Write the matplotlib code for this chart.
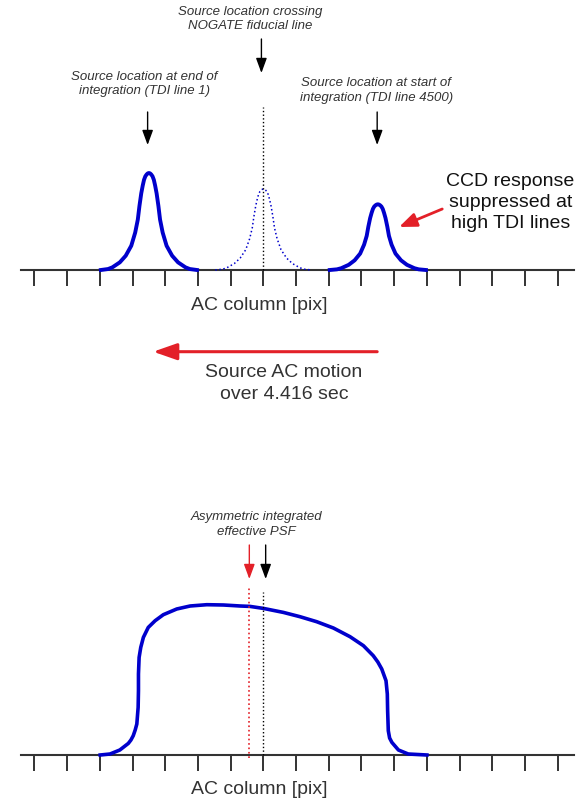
import matplotlib.pyplot as plt

plt.rcParams['font.family'] = ['Liberation Sans', 'DejaVu Sans']

# single-line PSF shape: offset from centre [pix], relative height
profile_dx = [-1.47, -1.25, -1.12, -0.89, -0.71, -0.54, -0.42, -0.34, -0.29, -0.235, -0.19,
              -0.15, -0.11, -0.07, -0.035, 0.0, 0.035, 0.07, 0.11, 0.15, 0.19, 0.235, 0.29,
              0.34, 0.42, 0.54, 0.71, 0.89, 1.12, 1.25, 1.47]
profile_h = [0.0, 0.01, 0.027, 0.079, 0.147, 0.25, 0.386, 0.52, 0.66, 0.79, 0.87,
             0.93, 0.966, 0.985, 0.996, 1.0, 0.996, 0.985, 0.966, 0.93, 0.87, 0.79, 0.66,
             0.52, 0.386, 0.25, 0.147, 0.079, 0.027, 0.01, 0.0]

# source image at end of integration, at the fiducial line, at start of integration
peak_pos = [-3.5, 0.0, 3.5]
peak_height = [0.97, 0.81, 0.657]

# integrated effective PSF
psf_x = [-4.99, -4.69, -4.39, -4.13, -4.05, -3.98, -3.92, -3.87, -3.83, -3.82, -3.82, -3.80,
         -3.75, -3.67, -3.52, -3.31, -3.06, -2.65, -2.24, -1.73, -1.22, -0.71, -0.41, 0.0,
         0.61, 1.12, 1.63, 2.14, 2.65, 3.06, 3.36, 3.50, 3.62, 3.75, 3.79, 3.80, 3.82, 3.86,
         3.93, 4.13, 4.43, 5.0]
psf_y = [0.0, 0.01, 0.05, 0.116, 0.15, 0.193, 0.25, 0.31, 0.476, 0.643, 0.81, 0.976,
         1.076, 1.176, 1.276, 1.343, 1.403, 1.46, 1.49, 1.503, 1.50, 1.49, 1.486, 1.466,
         1.426, 1.383, 1.333, 1.27, 1.183, 1.093, 0.993, 0.93, 0.86, 0.743, 0.61, 0.443,
         0.243, 0.17, 0.126, 0.05, 0.01, 0.0]
psf_centroid = -0.43

ticks = list(range(-7, 10))

blue = '#0000cc'
red = '#e32028'
grey = '#333333'

fig = plt.figure(figsize=(5.88, 8.02), dpi=100)
ax1 = fig.add_axes([21.4 / 588, 532 / 802, 552.3 / 588, 270 / 802])
ax2 = fig.add_axes([21.4 / 588, 47 / 802, 552.3 / 588, 255 / 802])
ax1.set_ylim(0, 2.70)
ax2.set_ylim(0, 2.55)

for ax in (ax1, ax2):
    ax.set_xlim(-7.40, 9.49)
    for s in ['left', 'right', 'top']:
        ax.spines[s].set_visible(False)
    ax.spines['bottom'].set_color(grey)
    ax.spines['bottom'].set_linewidth(1.5)
    ax.set_xticks(ticks)
    ax.set_yticks([])
    ax.tick_params(axis='x', direction='out', length=11.3, width=1.4, color=grey,
                   labelbottom=False)
    ax.patch.set_visible(False)
    ax.text(-0.13, -0.35, 'AC column [pix]', fontsize=14, color=grey,
            ha='center', va='center')

# top panel: PSF at three moments of the transit
for i in range(3):
    xs = [peak_pos[i] + d for d in profile_dx]
    ys = [peak_height[i] * h for h in profile_h]
    if i == 1:
        ax1.plot(xs, ys, color=blue, lw=1.1, ls=':', zorder=3, clip_on=False)
    else:
        ax1.plot(xs, ys, color=blue, lw=2.8, zorder=3, clip_on=False,
                 solid_joinstyle='round')

ax1.plot([0, 0], [0, 1.63], color='black', lw=1.0, ls=':', zorder=4, clip_on=False)

black_head = dict(arrowstyle='-|>,head_length=0.6,head_width=0.22', mutation_scale=15,
                  color='black', lw=1.0, shrinkA=0, shrinkB=0)
ax1.annotate('', xy=(-0.06, 1.97), xytext=(-0.06, 2.31), arrowprops=black_head,
             annotation_clip=False)
ax1.annotate('', xy=(-3.54, 1.25), xytext=(-3.54, 1.58), arrowprops=black_head,
             annotation_clip=False)
ax1.annotate('', xy=(3.48, 1.25), xytext=(3.48, 1.58), arrowprops=black_head,
             annotation_clip=False)

small = dict(fontsize=9.5, style='italic', color=grey, ha='center', va='center',
             linespacing=1.3)
ax1.text(-0.40, 2.51, 'Source location crossing\nNOGATE fiducial line', **small)
ax1.text(-3.63, 1.86, 'Source location at end of\nintegration (TDI line 1)', **small)
ax1.text(3.45, 1.795, 'Source location at start of\nintegration (TDI line 4500)', **small)

ax1.text(7.56, 0.675, 'CCD response\nsuppressed at\nhigh TDI lines', fontsize=14,
         color='#111111', ha='center', va='center', linespacing=1.28)
ax1.annotate('', xy=(4.15, 0.43), xytext=(5.47, 0.61),
             arrowprops=dict(arrowstyle='-|>,head_length=0.75,head_width=0.3',
                             mutation_scale=14, color=red, lw=2.0, shrinkA=0, shrinkB=0),
             annotation_clip=False)

# direction of motion between the panels
ax1.annotate('', xy=(-3.37, -0.817), xytext=(3.48, -0.817),
             arrowprops=dict(arrowstyle='-|>,head_length=0.8,head_width=0.28',
                             mutation_scale=18, color=red, lw=2.2, shrinkA=0, shrinkB=0),
             annotation_clip=False)
ax1.text(0.63, -1.135, 'Source AC motion\nover 4.416 sec', fontsize=14, color=grey,
         ha='center', va='center', linespacing=1.38)

# bottom panel: integrated PSF
ax2.plot(psf_x, psf_y, color=blue, lw=2.6, zorder=3, clip_on=False,
         solid_joinstyle='round')
ax2.plot([psf_centroid, psf_centroid], [-0.03, 1.67], color=red, lw=1.2, ls=':',
         zorder=4, clip_on=False)
ax2.plot([0, 0], [0, 1.63], color='black', lw=1.0, ls=':', zorder=4, clip_on=False)

red_head = dict(black_head, color=red)
ax2.annotate('', xy=(psf_centroid, 1.76), xytext=(psf_centroid, 2.10), arrowprops=red_head,
             annotation_clip=False)
ax2.annotate('', xy=(0.07, 1.76), xytext=(0.07, 2.10), arrowprops=black_head,
             annotation_clip=False)
ax2.text(-0.22, 2.305, 'Asymmetric integrated\neffective PSF', **small)

plt.savefig('out.png', dpi=100)
